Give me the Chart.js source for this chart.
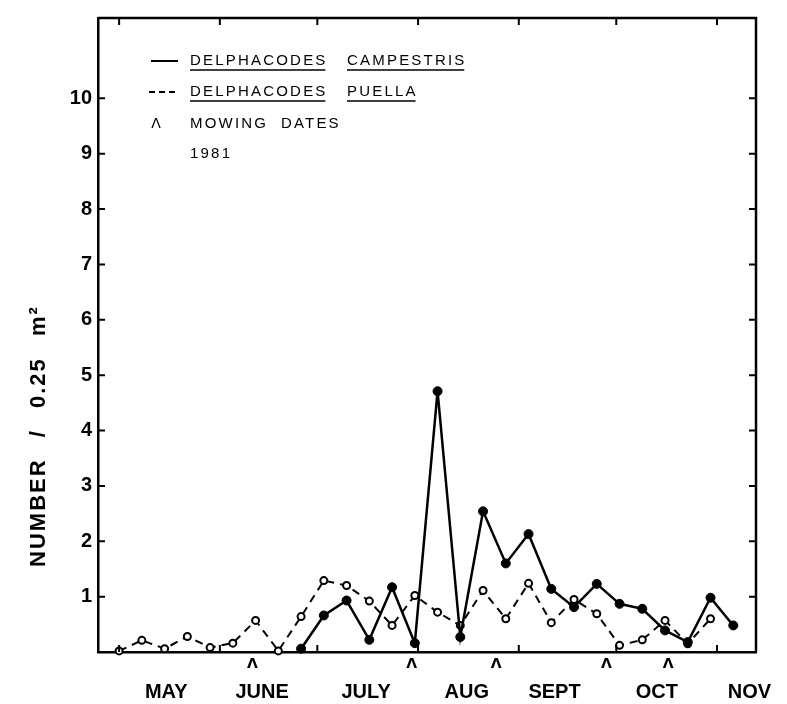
<!DOCTYPE html>
<html><head><meta charset="utf-8">
<script src="https://cdn.jsdelivr.net/npm/chart.js@4.4.0/dist/chart.umd.min.js"></script>
<style>html,body{margin:0;padding:0;background:#fff}#wrap{width:787px;height:704px;position:relative}</style>
</head><body><div id="wrap"><canvas id="c"></canvas></div>
<script>
// Days counted from 1 May 1981
const campestrisDays   = [56,63,70,77,84,91,98,105,112,119,126,133,140,147,154,161,168,175,182,189];
const campestrisValues = [0.06,0.66,0.93,0.22,1.17,0.16,4.71,0.27,2.54,1.60,2.13,1.14,0.81,1.23,0.87,0.78,0.39,0.18,0.98,0.48];
const puellaDays   = [0,7,14,21,28,35,42,49,56,63,70,77,84,91,98,105,112,119,126,133,140,147,154,161,168,175,182];
const puellaValues = [0.02,0.21,0.06,0.28,0.08,0.16,0.57,0.02,0.64,1.29,1.20,0.92,0.48,1.02,0.72,0.48,1.11,0.60,1.24,0.53,0.95,0.69,0.12,0.22,0.57,0.15,0.60];
const mowingDays = [41,90,116,150,169];
const monthLabels = ['MAY','JUNE','JULY','AUG','SEPT','OCT','NOV'];
const monthLabelDays = [14.5,44,76,107,134,165.5,194];
const monthStartDays = [0,31,61,92,123,153,184];
const yTickValues = [1,2,3,4,5,6,7,8,9,10];
const yTitle = 'NUMBER / 0.25 m²';
const legendNames = [['DELPHACODES','CAMPESTRIS'],['DELPHACODES','PUELLA']];
const mowingLegend = 'MOWING  DATES';
const yearLabel = '1981';

const AXIS_FONT = 'Liberation Sans';

const frameAndLegend = {
  id: 'frameAndLegend',
  afterDraw(chart) {
    const {ctx, chartArea: a, scales: {x, y}} = chart;
    ctx.save();
    ctx.strokeStyle = '#000';
    ctx.lineCap = 'butt';
    ctx.lineWidth = 2.5;
    ctx.beginPath();
    ctx.moveTo(a.left, a.top); ctx.lineTo(a.right, a.top); ctx.lineTo(a.right, a.bottom);
    ctx.stroke();
    ctx.lineWidth = 2;
    ctx.beginPath();
    monthStartDays.forEach(d => {
      const px = x.getPixelForValue(d);
      ctx.moveTo(px, a.bottom); ctx.lineTo(px, a.bottom - 7);
      ctx.moveTo(px, a.top); ctx.lineTo(px, a.top + 7);
    });
    yTickValues.forEach(v => {
      const py = y.getPixelForValue(v);
      ctx.moveTo(a.left, py); ctx.lineTo(a.left + 7, py);
      ctx.moveTo(a.right, py); ctx.lineTo(a.right - 7, py);
    });
    ctx.stroke();

    // y-axis title (placed along the lower part of the axis as in the original)
    ctx.save();
    ctx.translate(39, y.getPixelForValue(3.9));
    ctx.rotate(-Math.PI / 2);
    ctx.fillStyle = '#000';
    ctx.font = 'bold 22px "Liberation Sans"';
    ctx.letterSpacing = '2px';
    ctx.wordSpacing = '13px';
    ctx.textAlign = 'center';
    ctx.textBaseline = 'middle';
    ctx.fillText(yTitle, 0, 0);
    ctx.restore();

    // legend
    const lx = a.left + 53, tx = a.left + 92, tx2 = a.left + 249;
    const rows = [a.top + 43, a.top + 74, a.top + 106, a.top + 136];
    ctx.fillStyle = '#000';
    ctx.font = '15px "Liberation Sans"';
    ctx.letterSpacing = '2.2px';
    ctx.textBaseline = 'middle';
    ctx.textAlign = 'left';
    ctx.lineWidth = 2;
    ctx.beginPath(); ctx.moveTo(lx, rows[0]); ctx.lineTo(lx + 27, rows[0]); ctx.stroke();
    ctx.setLineDash([6, 4]);
    ctx.beginPath(); ctx.moveTo(lx - 2, rows[1]); ctx.lineTo(lx + 28, rows[1]); ctx.stroke();
    ctx.setLineDash([]);
    ctx.lineWidth = 1.5;
    legendNames.forEach((pair, i) => {
      const yy = rows[i];
      [[pair[0], tx], [pair[1], tx2]].forEach(([t, xx]) => {
        ctx.fillText(t, xx, yy);
        const w = ctx.measureText(t).width - 2.2;
        ctx.beginPath(); ctx.moveTo(xx, yy + 9); ctx.lineTo(xx + w, yy + 9); ctx.stroke();
      });
    });
    ctx.letterSpacing = '0px';
    ctx.font = '14px "DejaVu Sans"';
    ctx.textAlign = 'center';
    ctx.fillText('Λ', lx + 5, rows[2]);
    ctx.textAlign = 'left';
    ctx.font = '15px "Liberation Sans"';
    ctx.letterSpacing = '2.2px';
    ctx.fillText(mowingLegend, tx, rows[2]);
    ctx.fillText(yearLabel, tx, rows[3]);
    ctx.restore();
  }
};

new Chart(document.getElementById('c'), {
  type: 'line',
  data: {
    datasets: [
      {
        label: legendNames[0].join(' '),
        data: campestrisDays.map((d, i) => ({x: d, y: campestrisValues[i]})),
        borderColor: '#000', borderWidth: 2.5,
        pointRadius: 4.5, pointBackgroundColor: '#000', pointBorderColor: '#000', pointBorderWidth: 1,
        tension: 0, clip: false, order: 1
      },
      {
        label: legendNames[1].join(' '),
        data: puellaDays.map((d, i) => ({x: d, y: puellaValues[i]})),
        borderColor: '#000', borderWidth: 2, borderDash: [8, 6],
        pointRadius: 3.5, pointBackgroundColor: '#fff', pointBorderColor: '#000', pointBorderWidth: 2,
        tension: 0, clip: false, order: 2
      }
    ]
  },
  options: {
    responsive: true, maintainAspectRatio: false, animation: false,
    layout: {padding: {left: 0, right: 31, top: 14, bottom: 0}},
    plugins: {legend: {display: false}, tooltip: {enabled: false}},
    scales: {
      x: {
        type: 'linear', position: 'bottom', min: -6.5, max: 196, weight: 0,
        afterBuildTicks: s => { s.ticks = mowingDays.map(v => ({value: v})); },
        afterFit: s => { s.height = 22; },
        ticks: {autoSkip: false, maxRotation: 0, padding: 4, color: '#000',
                font: {family: 'DejaVu Sans', size: 14, weight: 'bold'}, callback: () => 'Λ'},
        grid: {display: false, drawTicks: false},
        border: {display: true, color: '#000', width: 2.5}
      },
      xm: {
        type: 'linear', position: 'bottom', min: -6.5, max: 196, weight: 1,
        afterBuildTicks: s => { s.ticks = monthLabelDays.map(v => ({value: v})); },
        afterFit: s => { s.height = 30; },
        ticks: {autoSkip: false, maxRotation: 0, padding: 6, color: '#000',
                font: {family: AXIS_FONT, size: 20, weight: 'bold'},
                callback: (v, i) => monthLabels[i]},
        grid: {display: false, drawTicks: false},
        border: {display: false}
      },
      y: {
        type: 'linear', min: 0, max: 11.45,
        afterBuildTicks: s => { s.ticks = yTickValues.map(v => ({value: v})); },
        afterFit: s => { s.width = 98; },
        ticks: {autoSkip: false, padding: 6, color: '#000',
                font: {family: AXIS_FONT, size: 20, weight: 'bold'}},
        grid: {display: false, drawTicks: false},
        border: {display: true, color: '#000', width: 2.5},
        title: {display: false}
      }
    }
  },
  plugins: [frameAndLegend]
});
</script>
</body></html>
